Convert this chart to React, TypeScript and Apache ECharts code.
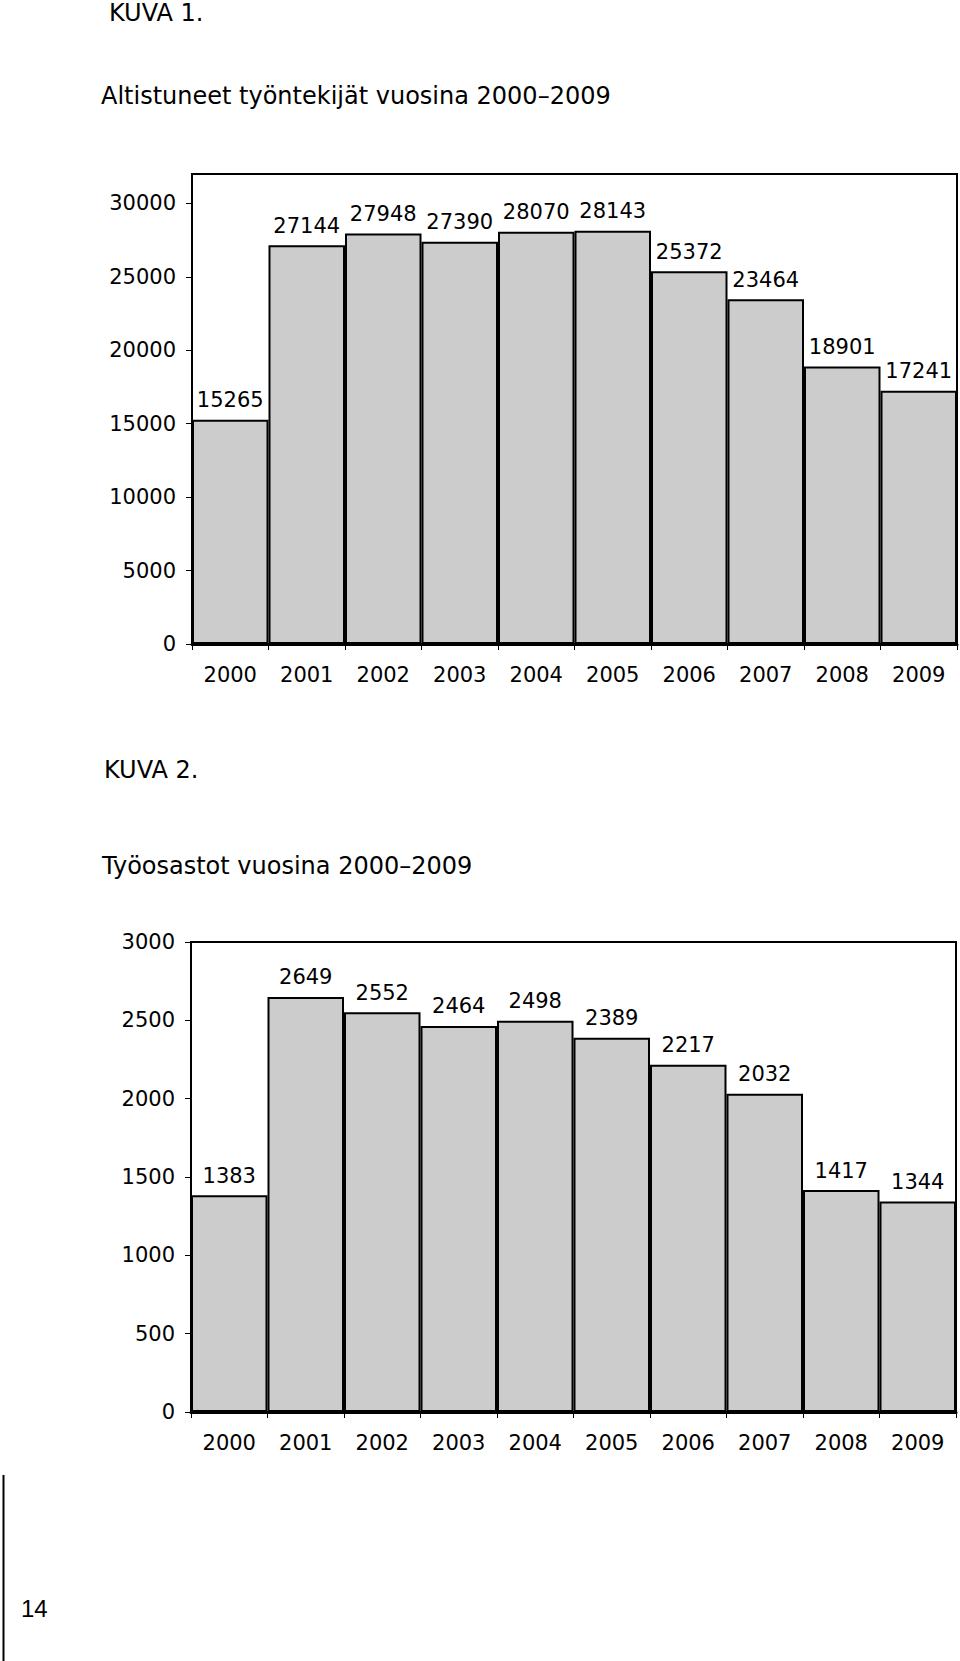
import React, { useEffect, useRef } from "react";
import * as echarts from "echarts";

const years = ["2000", "2001", "2002", "2003", "2004", "2005", "2006", "2007", "2008", "2009"];
const exposedWorkers = [15265, 27144, 27948, 27390, 28070, 28143, 25372, 23464, 18901, 17241];
const workUnits = [1383, 2649, 2552, 2464, 2498, 2389, 2217, 2032, 1417, 1344];

const heading1 = "KUVA 1.";
const title1 = "Altistuneet työntekijät vuosina 2000–2009";
const heading2 = "KUVA 2.";
const title2 = "Työosastot vuosina 2000–2009";
const pageNumber = "14";

const FONT = "DejaVu Sans";

function xAxisFor(gridIndex: number) {
  return {
    type: "category",
    gridIndex,
    data: years,
    axisLine: { show: true, lineStyle: { color: "#000", width: 3 } },
    axisTick: { show: true, alignWithLabel: false, length: 6, lineStyle: { color: "#000", width: 1 } },
    axisLabel: { color: "#000", fontSize: 21, fontFamily: FONT, margin: 20 },
    splitLine: { show: false },
  };
}

function yAxisFor(gridIndex: number, max: number, interval: number, showMax: boolean) {
  return {
    type: "value",
    gridIndex,
    min: 0,
    max,
    interval,
    axisLine: { show: true, lineStyle: { color: "#000", width: 2 } },
    axisTick: { show: true, inside: false, length: 6, lineStyle: { color: "#000", width: 1 } },
    axisLabel: {
      color: "#000",
      fontSize: 21,
      fontFamily: FONT,
      margin: 16,
      showMaxLabel: showMax,
      formatter: (v: number) => String(v),
    },
    splitLine: { show: false },
  };
}

function barSeries(index: number, data: number[]) {
  return {
    type: "bar",
    xAxisIndex: index,
    yAxisIndex: index,
    data,
    barCategoryGap: "0%",
    itemStyle: { color: "#cccccc", borderColor: "#000", borderWidth: 2 },
    label: {
      show: true,
      position: "top",
      distance: 9,
      color: "#000",
      fontSize: 21,
      fontFamily: FONT,
    },
  };
}

export default function App() {
  const ref = useRef<HTMLDivElement>(null);

  useEffect(() => {
    if (!ref.current) return;
    const chart = echarts.init(ref.current, undefined, { renderer: "svg" });
    const option = {
      animation: false,
      backgroundColor: "#fff",
      grid: [
        { left: 192, top: 174, width: 765, height: 470, show: true, borderColor: "#000", borderWidth: 2, backgroundColor: "#fff" },
        { left: 191, top: 942, width: 765, height: 470, show: true, borderColor: "#000", borderWidth: 2, backgroundColor: "#fff" },
      ],
      xAxis: [xAxisFor(0), xAxisFor(1)],
      yAxis: [yAxisFor(0, 32000, 5000, false), yAxisFor(1, 3000, 500, true)],
      series: [barSeries(0, exposedWorkers), barSeries(1, workUnits)],
      graphic: [
        { type: "text", left: 109, top: 1, style: { text: heading1, fontSize: 24, fontFamily: FONT, fill: "#000" } },
        { type: "text", left: 101, top: 84, style: { text: title1, fontSize: 24, fontFamily: FONT, fill: "#000" } },
        { type: "text", left: 104, top: 758, style: { text: heading2, fontSize: 24, fontFamily: FONT, fill: "#000" } },
        { type: "text", left: 102, top: 854, style: { text: title2, fontSize: 24, fontFamily: FONT, fill: "#000" } },
        { type: "line", shape: { x1: 3.5, y1: 1475, x2: 3.5, y2: 1661 }, style: { stroke: "#000", lineWidth: 2 } },
        { type: "text", left: 21, top: 1596, style: { text: pageNumber, fontSize: 24, fontFamily: "Liberation Sans", fill: "#000" } },
      ],
    };
    chart.setOption(option as any);
    return () => chart.dispose();
  }, []);

  return (
    <div
      ref={ref}
      style={{ position: "absolute", left: 0, top: 0, width: 960, height: 1661 }}
    />
  );
}
